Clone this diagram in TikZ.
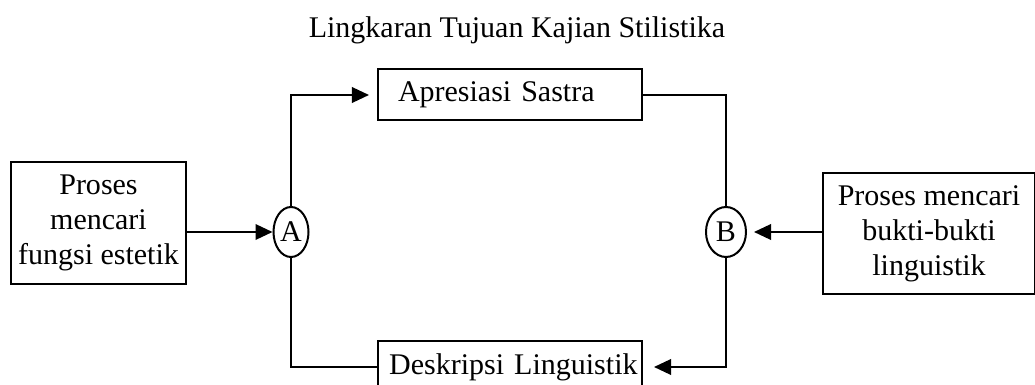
\documentclass[tikz,border=0pt]{standalone}
\usepackage{fontspec}
\setmainfont{Liberation Serif}
\usetikzlibrary{arrows.meta,shapes.geometric}

\begin{document}
\begin{tikzpicture}[
  x=0.4pt, y=-0.4pt,
  txt/.style={font=\fontsize{12pt}{14pt}\selectfont},
  box/.style={txt, rectangle, draw, line width=0.8pt, align=center,
    inner sep=0pt},
  wbox/.style={box, align=left, text width=105.6pt, minimum height=20.4pt},
  hub/.style={txt, ellipse, draw, line width=0.8pt, inner sep=0pt,
    minimum height=20pt},
  link/.style={line width=0.8pt},
  arr/.style={link, -{Triangle[length=6.8pt,width=6.2pt]}},
]

% Page frame
\useasboundingbox (0,0) rectangle (1035,385);

% Title
\node[txt] (title) at (517,30) {Lingkaran Tujuan Kajian Stilistika};

% Side boxes
\node[box, minimum width=70pt, minimum height=48.8pt] (fungsi) at (98.5,223)
  {Proses\\mencari\\fungsi estetik};
\node[box, minimum width=84.8pt, minimum height=48.4pt] (bukti) at (929,233.5)
  {Proses mencari\\bukti-bukti\\linguistik};

% Hubs
\node[hub, minimum width=14pt] (A) at (291,232) {A};
\node[hub, minimum width=16pt] (B) at (726,232) {B};

% Middle boxes
\node[wbox] (apresiasi) at (510,95) {\hspace*{8pt}Apresiasi Sastra};
\node[wbox] (deskripsi) at (510,367) {\hspace*{4.5pt}Deskripsi Linguistik};

% Connectors
\draw[arr] (fungsi.east |- A.west) -- (A.west);
\draw[arr, shorten >=3.2pt] (A.north) |- (apresiasi.west);
\draw[link] (A.south) |- (deskripsi.west);
\draw[link] (apresiasi.east) -| (B.north);
\draw[arr, shorten >=4.4pt] (B.south) |- (deskripsi.east);
\draw[arr, shorten >=2.8pt] (bukti.west |- B.east) -- (B.east);

\end{tikzpicture}
\end{document}
